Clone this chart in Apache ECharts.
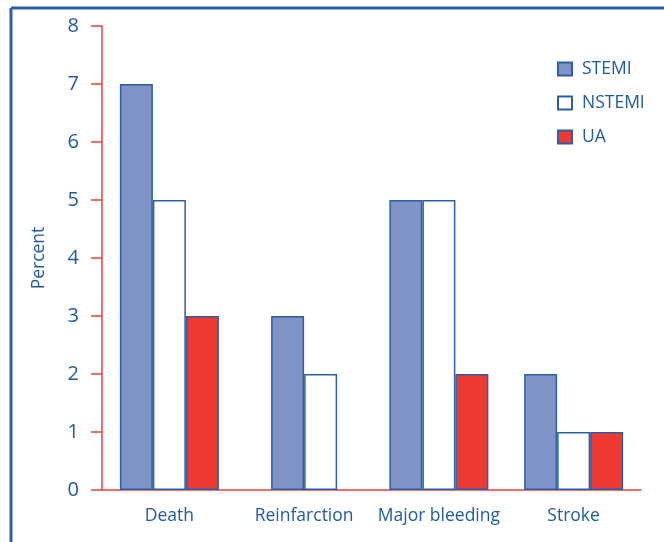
<!DOCTYPE html>
<html>
<head>
<meta charset="utf-8">
<script src="https://cdn.jsdelivr.net/npm/echarts@6/dist/echarts.min.js"></script>
<style>
    html, body { margin: 0; padding: 0; background: #fff; }
    #main { width: 664px; height: 542px; }
</style>
</head>
<body>
<div id="main"></div>
<script>
var categories = ['Death', 'Reinfarction', 'Major bleeding', 'Stroke'];
var seriesNames = ['STEMI', 'NSTEMI', 'UA'];
var stemi = [7, 3, 5, 2];
var nstemi = [5, 2, 5, 1];
var ua = [3, null, 2, 1];
var yTicks = [0, 1, 2, 3, 4, 5, 6, 7, 8];

var textBlue = '#1f5aa6';
var axisRed = '#f0403a';
var edgeBlue = '#2b5fa8';
var fills = ['#8093c6', '#ffffff', '#ee3a33'];
var values = [stemi, nstemi, ua];

var myChart = echarts.init(document.getElementById('main'));

// categories without a UA value get their bars centred as a pair (own hidden axis)
var full = [], pair = [];
for (var i = 0; i < seriesNames.length; i++) {
    full.push([]);
    pair.push([]);
    for (var j = 0; j < categories.length; j++) {
        var missing = ua[j] === null;
        full[i].push(missing ? null : values[i][j]);
        pair[i].push(missing ? values[i][j] : null);
    }
}

function barSeries(i, data, axisIndex) {
    return {
        name: seriesNames[i],
        type: 'bar',
        xAxisIndex: axisIndex,
        data: data,
        barGap: '0%',
        barWidth: 33,
        itemStyle: {
            color: fills[i],
            borderColor: edgeBlue,
            borderWidth: 1.5
        }
    };
}

var series = [];
for (var i = 0; i < seriesNames.length; i++) {
    series.push(barSeries(i, full[i], 0));
}
for (var i = 0; i < 2; i++) {
    series.push(barSeries(i, pair[i], 1));
}

var option = {
    animation: false,
    textStyle: { fontFamily: 'Open Sans' },
    grid: { left: 102, right: 23, top: 26, bottom: 52 },
    legend: {
        orient: 'vertical',
        left: 557,
        top: 60,
        padding: 0,
        itemWidth: 14,
        itemHeight: 13,
        itemGap: 16,
        icon: 'rect',
        textStyle: { color: textBlue, fontSize: 17.5, lineHeight: 13, padding: [0, 0, 0, 5] },
        data: seriesNames
    },
    xAxis: [{
        type: 'category',
        data: categories,
        axisLine: { lineStyle: { color: axisRed, width: 1.5 } },
        axisTick: { length: 12, lineStyle: { color: axisRed, width: 1.5 } },
        axisLabel: { color: textBlue, fontSize: 17.5, margin: 17, interval: 0 }
    }, {
        type: 'category',
        data: categories,
        show: false
    }],
    yAxis: {
        type: 'value',
        min: yTicks[0],
        max: yTicks[yTicks.length - 1],
        interval: 1,
        name: 'Percent',
        nameLocation: 'middle',
        nameGap: 54,
        nameTextStyle: { color: textBlue, fontSize: 17.5 },
        splitLine: { show: false },
        axisLine: { show: true, lineStyle: { color: axisRed, width: 1.5 } },
        axisTick: { show: true, length: 11, lineStyle: { color: axisRed, width: 1.5 } },
        axisLabel: { color: textBlue, fontSize: 20, margin: 23 }
    },
    graphic: [
        { type: 'line', shape: { x1: 11, y1: 8, x2: 11, y2: 542 }, style: { stroke: edgeBlue, lineWidth: 3 } },
        { type: 'line', shape: { x1: 11, y1: 8, x2: 664, y2: 8 }, style: { stroke: edgeBlue, lineWidth: 3 } }
    ],
    series: series
};

myChart.setOption(option);
</script>
</body>
</html>
